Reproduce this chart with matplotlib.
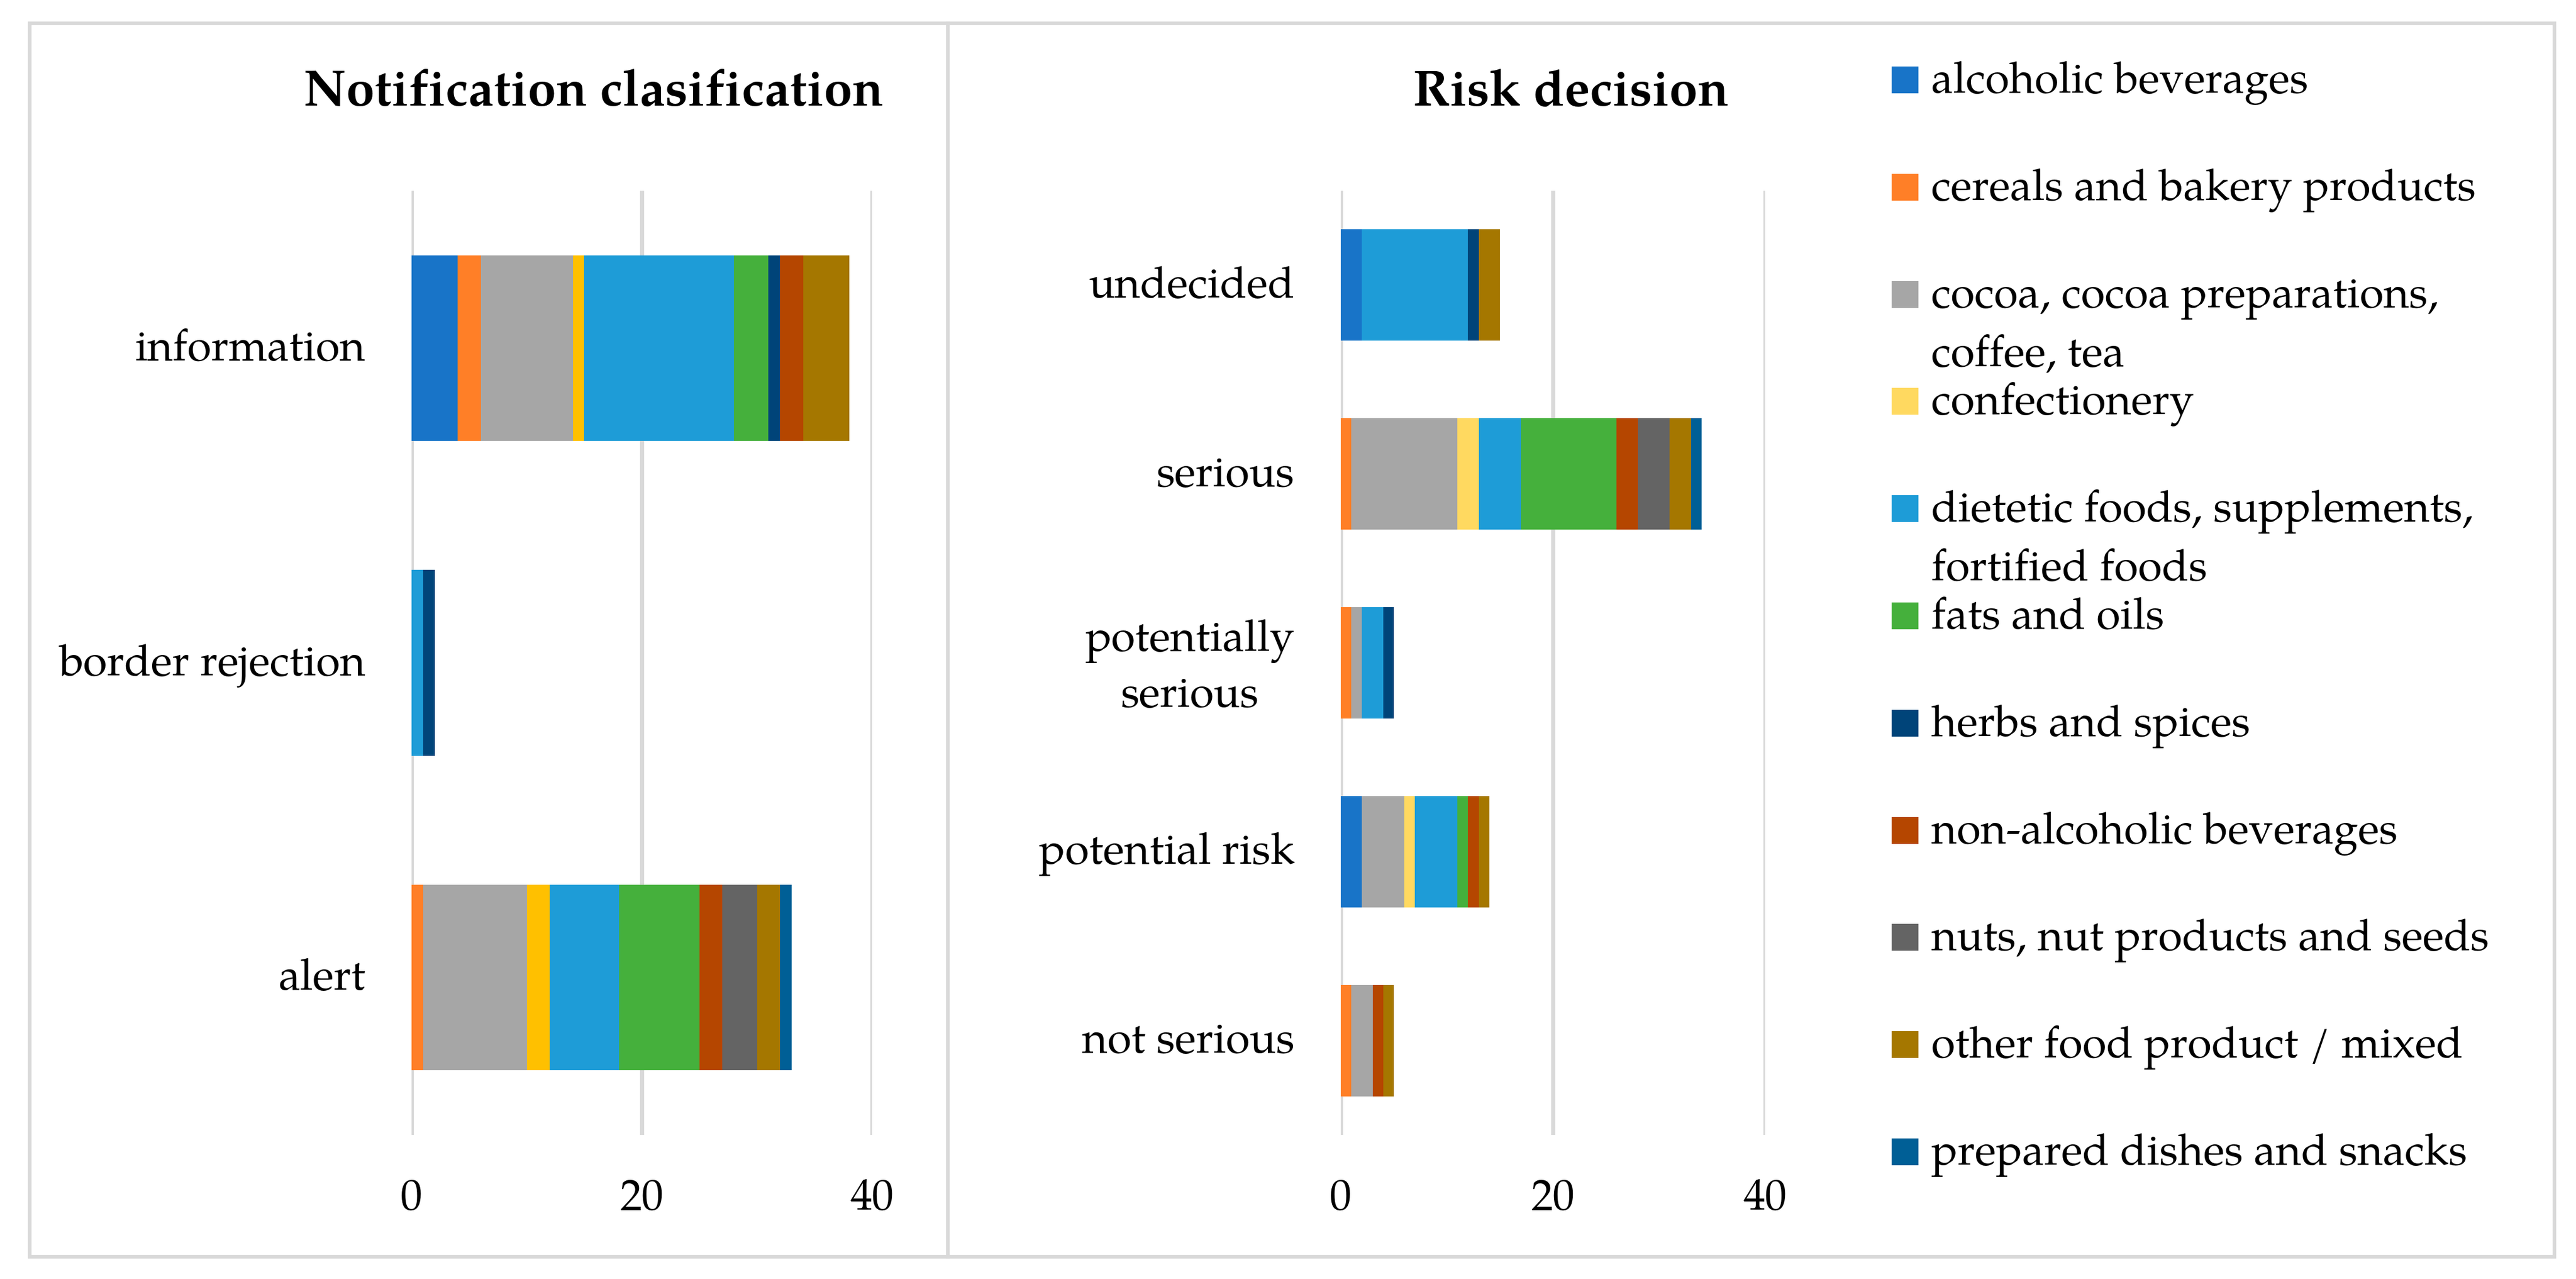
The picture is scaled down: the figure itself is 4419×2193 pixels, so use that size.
import matplotlib
matplotlib.use("Agg")
import matplotlib.pyplot as plt
from matplotlib import font_manager
from matplotlib.patches import Rectangle
from matplotlib.transforms import ScaledTranslation

# pick a Palatino-like serif if one exists, else Liberation Serif
have = {f.name for f in font_manager.fontManager.ttflist}
serif = next((n for n in ["Palatino Linotype", "Book Antiqua", "TeX Gyre Pagella",
                          "P052", "URW Palladio L"] if n in have), "Liberation Serif")
plt.rcParams["font.family"] = serif

food_groups = ["alcoholic beverages", "cereals and bakery products",
               "cocoa, cocoa preparations,\ncoffee, tea", "confectionery",
               "dietetic foods, supplements,\nfortified foods", "fats and oils",
               "herbs and spices", "non-alcoholic beverages",
               "nuts, nut products and seeds", "other food product / mixed",
               "prepared dishes and snacks"]
colors = ["#1874C8", "#FF7F27", "#A6A6A6", "#FFD960", "#1E9CD7", "#45B03C",
          "#004479", "#B54600", "#646464", "#A57700", "#005F96"]
conf_color_left = "#FFC000"  # left chart uses the darker gold for confectionery

notif_classes = ["alert", "border rejection", "information"]
# rows follow food_groups, columns follow notif_classes
notif_counts = [
    [0, 0, 4],
    [1, 0, 2],
    [9, 0, 8],
    [2, 0, 1],
    [6, 1, 13],
    [7, 0, 3],
    [0, 1, 1],
    [2, 0, 2],
    [3, 0, 0],
    [2, 0, 4],
    [1, 0, 0],
]

risk_classes = ["not serious", "potential risk", "potentially\nserious", "serious", "undecided"]
risk_counts = [
    [0, 2, 0, 0, 2],
    [1, 0, 1, 1, 0],
    [2, 4, 1, 10, 0],
    [0, 1, 0, 2, 0],
    [0, 4, 2, 4, 10],
    [0, 1, 0, 9, 0],
    [0, 0, 1, 0, 1],
    [1, 1, 0, 2, 0],
    [0, 0, 0, 3, 0],
    [1, 1, 0, 2, 2],
    [0, 0, 0, 1, 0],
]

W, H, DPI = 4419, 2193, 300
fig = plt.figure(figsize=(W / DPI, H / DPI), dpi=DPI)
GRID = "#D9D9D9"
FS = 18.0


def fx(px):
    return px / W


def fy(py):
    return 1 - py / H


def stacked(ax, classes, counts, cols):
    y = range(len(classes))
    left = [0] * len(classes)
    for vals, c in zip(counts, cols):
        ax.barh(y, vals, left=left, height=0.59, color=c, lw=0)
        left = [a + b for a, b in zip(left, vals)]
    ax.set_xlim(0, 40)
    ax.set_ylim(-0.5, len(classes) - 0.5)
    ax.set_xticks([0, 20, 40])
    ax.set_yticks(list(y))
    ax.set_yticklabels(classes, multialignment="center", linespacing=1.38)
    ax.tick_params(length=0, labelsize=FS)
    ax.tick_params(axis="x", pad=17.5)
    ax.tick_params(axis="y", pad=19)
    for s in ax.spines.values():
        s.set_visible(False)
    ax.set_axisbelow(True)
    ax.grid(axis="x", color=GRID, lw=1.7)
    ax.grid(axis="y", visible=False)
    # category labels sit a few pixels higher in the original
    for t in ax.get_yticklabels():
        up = 10 if "\n" in t.get_text() else 6
        t.set_transform(t.get_transform() + ScaledTranslation(0, up / DPI, fig.dpi_scale_trans))


top, bot = 327, 1946
ax1 = fig.add_axes([fx(706), fy(bot), fx(1496 - 706), (bot - top) / H])
left_cols = list(colors)
left_cols[3] = conf_color_left
stacked(ax1, notif_classes, notif_counts, left_cols)

ax2 = fig.add_axes([fx(2300), fy(bot), fx(3028 - 2300), (bot - top) / H])
stacked(ax2, risk_classes, risk_counts, colors)

fig.text(fx(1018), fy(160), "Notification clasification", fontsize=21.0,
         fontweight="bold", ha="center", va="center")
fig.text(fx(2695), fy(160), "Risk decision", fontsize=21.0,
         fontweight="bold", ha="center", va="center")

# legend, Excel style: square at the first line, wrapped labels continue below
row0, step, sq = 137, 183.8, 46
for i, (lab, c) in enumerate(zip(food_groups, colors)):
    yc = row0 + i * step
    fig.patches.append(Rectangle((fx(3245), fy(yc + sq / 2)), fx(sq), sq / H,
                                 transform=fig.transFigure, color=c, lw=0))
    for k, line in enumerate(lab.split("\n")):
        fig.text(fx(3313), fy(yc + 22 + k * 101), line, fontsize=FS,
                 ha="left", va="baseline")

# chart borders
fig.patches.append(Rectangle((fx(51), fy(2155)), fx(4382 - 51), (2155 - 40) / H,
                             transform=fig.transFigure, fill=False, ec=GRID, lw=1.5))
fig.add_artist(plt.Line2D([fx(1626), fx(1626)], [fy(40), fy(2155)],
                          transform=fig.transFigure, color=GRID, lw=1.5))

fig.savefig("out.png", dpi=DPI, facecolor="white")
print("wrote out.png, font:", serif)
